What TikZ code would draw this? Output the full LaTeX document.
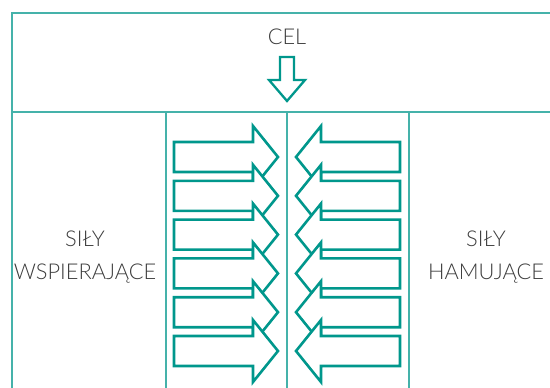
\documentclass[tikz,border=0pt]{standalone}
\usepackage{fontspec}
\setmainfont{Lato Light}
\definecolor{gridc}{HTML}{45B2AA}
\definecolor{arrc}{HTML}{00978C}
\definecolor{txtc}{HTML}{3C3C3C}
\tikzset{
  gridline/.style={draw=gridc, line width=1.6pt},
  fatarrow/.style={draw=arrc, fill=white, line width=2.6pt, line join=miter},
  lbl/.style={text=txtc, font=\fontsize{21.8}{33}\selectfont, align=center, inner sep=0pt}
}
\begin{document}
\begin{tikzpicture}[x=1pt, y=-1pt]
\useasboundingbox (0,0) rectangle (550,388);
\clip (0,0) rectangle (550,388);
% grid
\draw[gridline] (12,400) -- (12,13) -- (560,13);
\draw[gridline] (12,112) -- (560,112);
\draw[gridline] (166,112) -- (166,400);
\draw[gridline] (287,112) -- (287,400);
\draw[gridline] (409,112) -- (409,400);
% labels
\node[lbl] (cel) at (287,37) {CEL};
\node[lbl] (left) at (85,257) {SIŁY\\WSPIERAJĄCE};
\node[lbl] (right) at (486,257) {SIŁY\\HAMUJĄCE};
% down arrow
\draw[fatarrow, line width=2.3pt] (280,57) -- (294,57) -- (294,80) -- (305,80) -- (287,101) -- (269,80) -- (280,80) -- cycle;
% force arrows
\foreach \k in {0,...,5}{
  \pgfmathsetmacro{\c}{157+38.8*\k}
  \draw[fatarrow] (174,\c-15) -- (253,\c-15) -- (253,\c-31) -- (278,\c) -- (253,\c+31) -- (253,\c+15) -- (174,\c+15) -- cycle;
  \draw[fatarrow] (400,\c-15) -- (321,\c-15) -- (321,\c-31) -- (296,\c) -- (321,\c+31) -- (321,\c+15) -- (400,\c+15) -- cycle;
}
\end{tikzpicture}
\end{document}
